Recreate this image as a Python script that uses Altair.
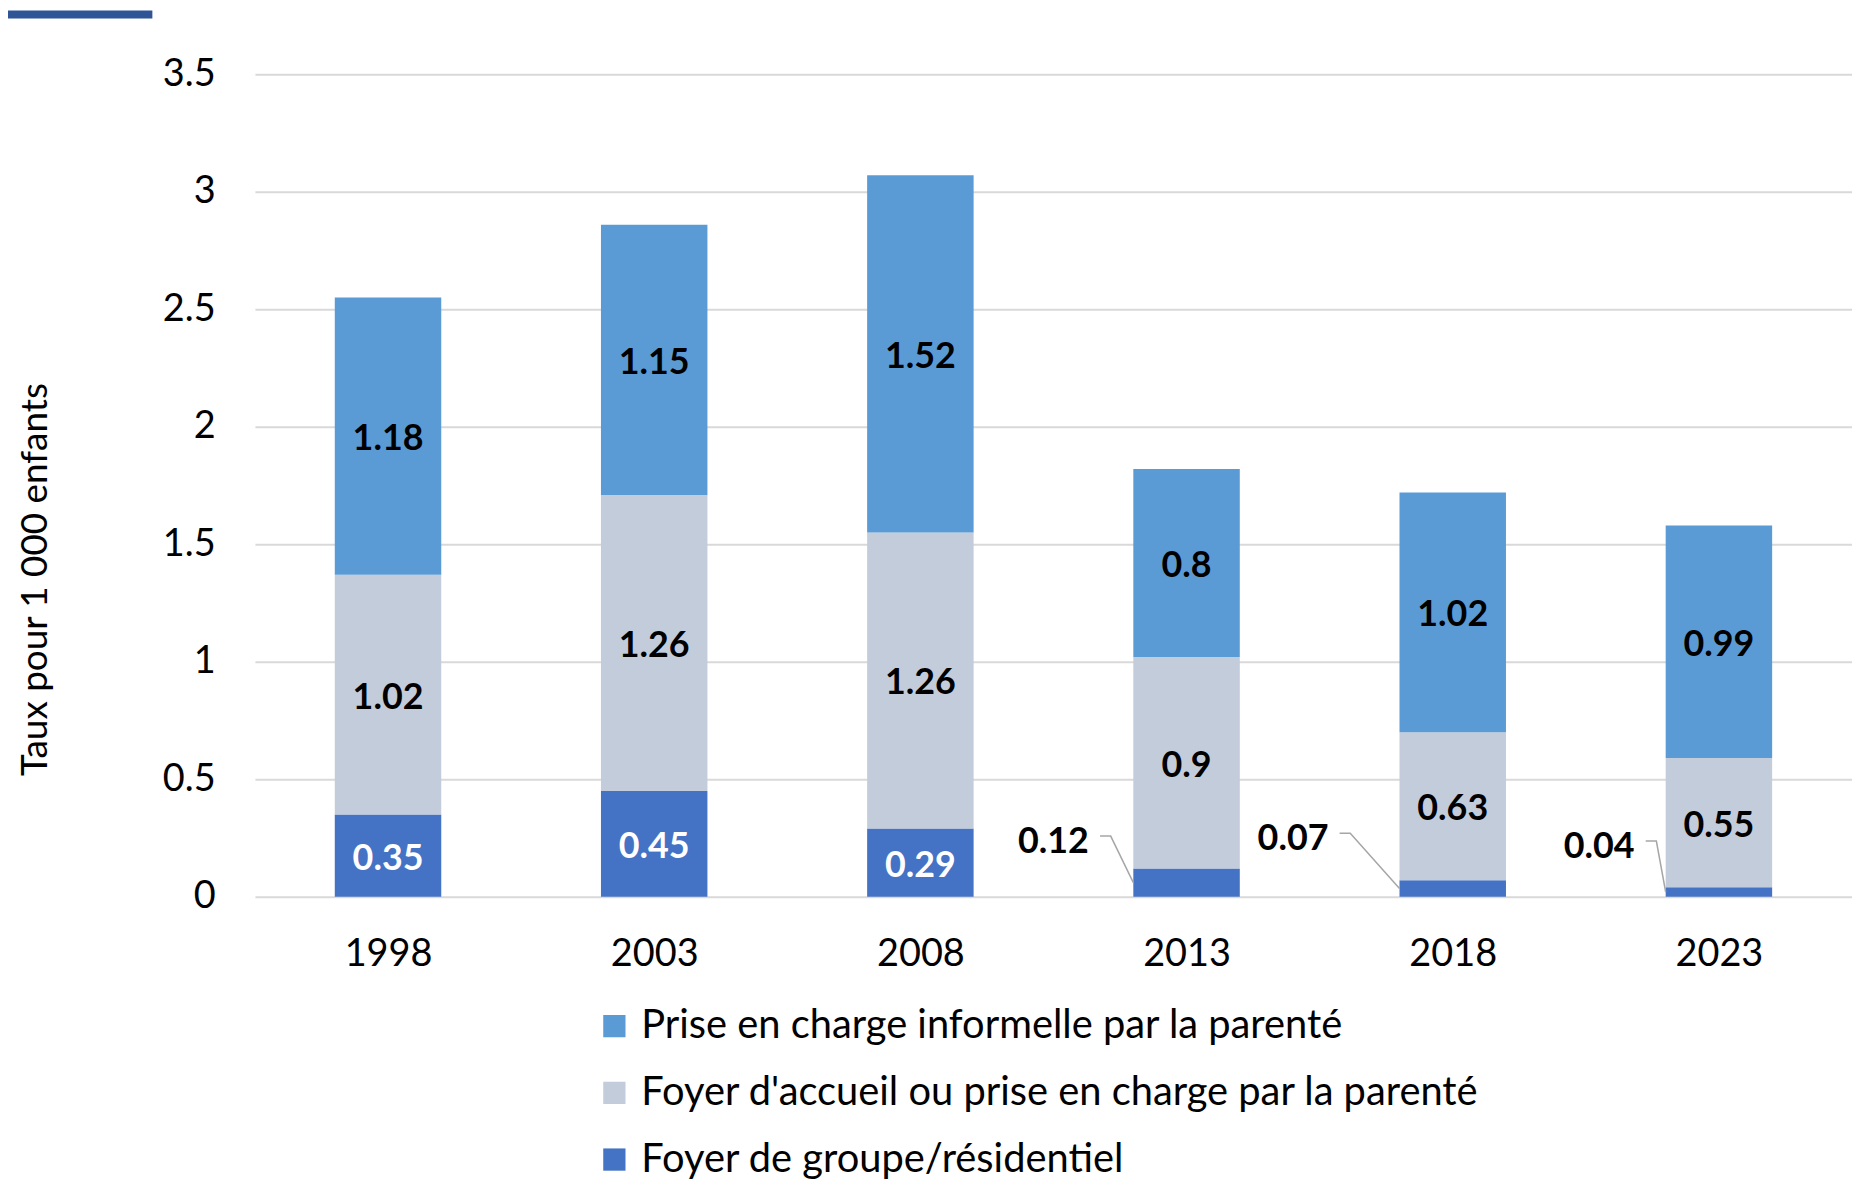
import altair as alt
import pandas as pd

# ---------------- data ----------------
years = ["1998", "2003", "2008", "2013", "2018", "2023"]
groupe = [0.35, 0.45, 0.29, 0.12, 0.07, 0.04]          # Foyer de groupe/résidentiel
accueil = [1.02, 1.26, 1.26, 0.90, 0.63, 0.55]         # Foyer d'accueil ...
informelle = [1.18, 1.15, 1.52, 0.80, 1.02, 0.99]      # Prise en charge informelle ...

series_names = [
    "Prise en charge informelle par la parenté",
    "Foyer d'accueil ou prise en charge par la parenté",
    "Foyer de groupe/résidentiel",
]
series_colors = ["#5B9BD5", "#C3CCDA", "#4472C4"]
y_ticks = [0, 0.5, 1, 1.5, 2, 2.5, 3, 3.5]
y_title = "Taux pour 1 000 enfants"
callout_years = ["2013", "2018", "2023"]
white_label_years = ["1998", "2003", "2008"]

# ---------------- style ----------------
FONT = "Lato"
BAR_HALF = 0.2
CALLOUT_DX = {"2013": -0.50, "2018": -0.60, "2023": -0.45}
CALLOUT_Y = {"2013": 0.246, "2018": 0.258, "2023": 0.225}
LEADER_START = 0.175
LEADER_KNEE = 0.215
LEADER_DY = 0.012

# ---------------- tables ----------------
rows = []
for i, yr in enumerate(years):
    base = 0.0
    for name, vals in [(series_names[2], groupe), (series_names[1], accueil), (series_names[0], informelle)]:
        v = vals[i]
        rows.append(dict(year=yr, idx=i, series=name, value=v, y0=base, y1=base + v,
                         mid=base + v / 2, x0=i - BAR_HALF, x1=i + BAR_HALF, label=f"{v:g}"))
        base += v
df = pd.DataFrame(rows)

inbar = df[~((df.series == series_names[2]) & (df.year.isin(callout_years)))]
white_df = inbar[(inbar.series == series_names[2]) & (inbar.year.isin(white_label_years))]
black_df = inbar.drop(white_df.index)

call_rows, lead_rows = [], []
for yr in callout_years:
    i = years.index(yr)
    v = groupe[i]
    lx = i + CALLOUT_DX[yr]
    ly = CALLOUT_Y[yr]
    call_rows.append(dict(year=yr, lx=lx, ly=ly, label=f"{v:g}"))
    lead_rows += [
        dict(year=yr, o=0, px=lx + LEADER_START, py=ly + LEADER_DY),
        dict(year=yr, o=1, px=lx + LEADER_KNEE, py=ly + LEADER_DY),
        dict(year=yr, o=2, px=i - BAR_HALF, py=v / 2),
    ]
call_df = pd.DataFrame(call_rows)
lead_df = pd.DataFrame(lead_rows)

# ---------------- scales / axes ----------------
x_scale = alt.Scale(domain=[-0.5, len(years) - 0.5], nice=False, zero=False)
y_scale = alt.Scale(domain=[0, 3.5], nice=False)
label_expr = "[" + ",".join(f"'{y}'" for y in years) + "][datum.value]"
x_axis = alt.Axis(values=list(range(len(years))), labelExpr=label_expr, grid=False, ticks=False,
                  domain=False, title=None, labelFontSize=38, labelFont=FONT, labelColor="#000000",
                  labelPadding=39)
y_axis = alt.Axis(values=y_ticks, format="~g", grid=True, gridColor="#D9D9D9", gridWidth=2,
                  ticks=False, domain=False, labelPadding=40, labelFontSize=38, labelFont=FONT,
                  labelColor="#000000", title=y_title, titleX=-220, titleY=507, titleAngle=-90,
                  titleAlign="center", titleBaseline="middle", titleFontSize=37, titleFont=FONT,
                  titleFontWeight="normal", titleColor="#000000")

bars = alt.Chart(df).mark_bar(strokeWidth=0).encode(
    x=alt.X("x0:Q", scale=x_scale, axis=x_axis),
    x2="x1",
    y=alt.Y("y0:Q", scale=y_scale, axis=y_axis),
    y2="y1",
    color=alt.Color("series:N", scale=alt.Scale(domain=series_names, range=series_colors),
                    legend=alt.Legend(orient="none", legendX=341, legendY=936, direction="vertical",
                                      title=None, symbolType="square", symbolSize=500,
                                      symbolStrokeWidth=0, labelFontSize=40, labelFont=FONT,
                                      labelColor="#000000", rowPadding=27, labelOffset=7,
                                      labelLimit=1200)),
)

def txt(data, color, xf, yf):
    return alt.Chart(data).mark_text(font=FONT, fontSize=36, fontWeight="bold", color=color,
                                     align="center", baseline="middle", dy=3).encode(
        x=alt.X(xf, scale=x_scale, axis=x_axis),
        y=alt.Y(yf, scale=y_scale, axis=y_axis),
        text="label:N",
    )

white_txt = txt(white_df, "#FFFFFF", "idx:Q", "mid:Q")
black_txt = txt(black_df, "#000000", "idx:Q", "mid:Q")
call_txt = txt(call_df, "#000000", "lx:Q", "ly:Q")

leaders = alt.Chart(lead_df).mark_line(color="#A6A6A6", strokeWidth=1.5).encode(
    x=alt.X("px:Q", scale=x_scale, axis=x_axis),
    y=alt.Y("py:Q", scale=y_scale, axis=y_axis),
    detail="year:N",
    order="o:Q",
)

deco = alt.Chart(pd.DataFrame({"a": [0]})).mark_rect(color="#2F5597").encode(
    x=alt.value(-248), x2=alt.value(-103), y=alt.value(-64), y2=alt.value(-56)
)

chart = alt.layer(bars, leaders, white_txt, black_txt, call_txt, deco).properties(
    width=1604, height=826,
    padding={"left": 248, "top": 64, "right": 0, "bottom": 287},
    autosize=alt.AutoSizeParams(type="none"),
    background="#FFFFFF",
).configure_view(stroke=None)

chart.save("out.html", embed_options={"renderer": "svg", "actions": False})
